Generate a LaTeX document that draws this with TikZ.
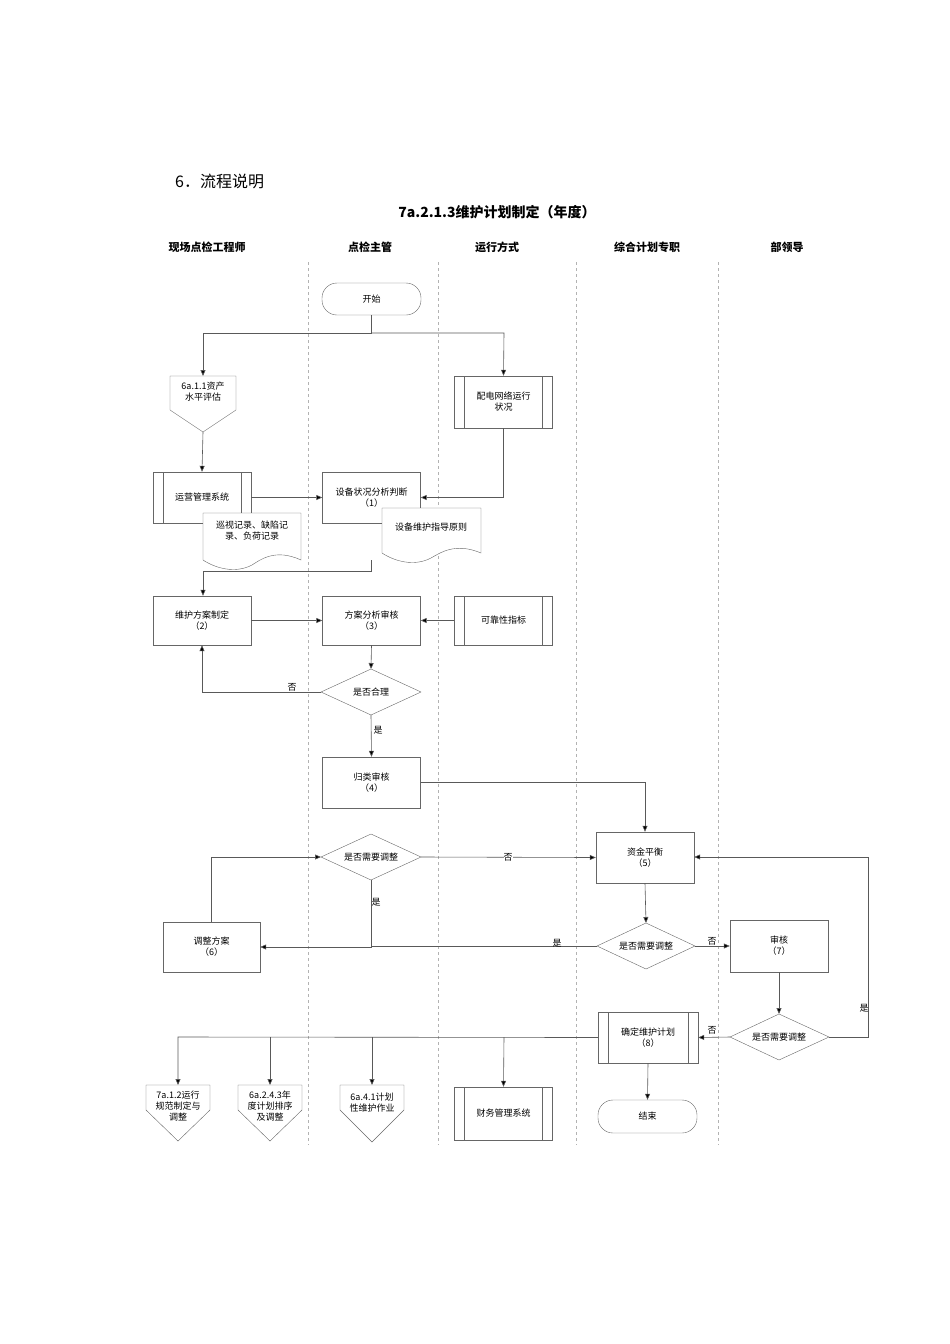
\documentclass[tikz,border=0pt]{standalone}
\usepackage{fontspec}
\setmainfont{Noto Sans CJK SC}
\usetikzlibrary{arrows.meta,calc}
\begin{document}
\begin{tikzpicture}[x=1pt,y=-1pt,
  every node/.style={font=\fontsize{9}{11}\selectfont, align=center, inner sep=0pt},
  box/.style={draw=gray!80!black, minimum width=98pt, minimum height=50pt},
  pre/.style={box, path picture={
    \draw[gray!80!black] ([xshift=10pt]path picture bounding box.north west) -- ([xshift=10pt]path picture bounding box.south west);
    \draw[gray!80!black] ([xshift=-10pt]path picture bounding box.north east) -- ([xshift=-10pt]path picture bounding box.south east);}},
  term/.style={draw=gray!80!black, rounded corners=15pt, minimum width=99pt, minimum height=32pt},
  dia/.style={draw=gray!80!black},
  ln/.style={draw=gray!70!black, line width=0.6pt},
  ar/.style={ln, -{Triangle[length=6pt,width=5pt,fill=black]}},
  lane/.style={draw=gray!60, dash pattern=on 3pt off 3pt, line width=0.4pt},
  hd/.style={font=\fontsize{11}{13}\selectfont\bfseries},
  lb/.style={font=\fontsize{9}{11}\selectfont}]
\useasboundingbox (0,0) rectangle (950,1344);
\node[anchor=west, font=\fontsize{16}{18}\selectfont] (sec) at (175,181) {6．流程说明};
\node[font=\fontsize{14}{16}\selectfont\bfseries] (title) at (497,212) {7a.2.1.3维护计划制定（年度）};
\node[hd] (h1) at (207,247) {现场点检工程师};
\node[hd] (h2) at (370,247) {点检主管};
\node[hd] (h3) at (497,247) {运行方式};
\node[hd] (h4) at (647,247) {综合计划专职};
\node[hd] (h5) at (787,247) {部领导};
\foreach \x in {308,438,576,718} \draw[lane] (\x,262) -- (\x,1145);

% start
\node[term] (start) at (371.5,299) {开始};
\coordinate (sp) at (371.5,333);
\coordinate (spL) at (203,333);
\coordinate (spR) at (504,333);
% offpage 6a.1.1
\node (o1) at (203,392) {6a.1.1资产\\水平评估};
\draw[dia] (170,376) -- (236,376) -- (236,410) -- (203,432) -- (170,410) -- cycle;
\coordinate (o1b) at (203,432);
\coordinate (o1t) at (203,376);
\node[pre, minimum height=52pt] (pd) at (503.5,402) {配电网络运行\\状况};
\node[pre, minimum height=51pt] (yy) at (202,497.5) {运营管理系统};
\node[box, minimum height=51pt] (n1) at (371.5,497.5) {设备状况分析判断\\（1）};
% documents
\draw[dia, fill=white] (203,513) -- (301,513) -- (301,560) .. controls (275,548) and (260,560) .. (252,565) .. controls (235,574) and (215,568) .. (203,560) -- cycle;
\node (d1) at (252,531) {巡视记录、缺陷记\\录、负荷记录};
\draw[dia, fill=white] (382,508) -- (481,508) -- (481,553) .. controls (455,542) and (440,553) .. (431,558) .. controls (414,567) and (394,561) .. (382,553) -- cycle;
\node (d2) at (431,527) {设备维护指导原则};
\node[box, minimum height=49pt] (n2) at (202,620.5) {维护方案制定\\（2）};
\node[box, minimum height=49pt] (n3) at (371.5,620.5) {方案分析审核\\（3）};
\node[pre, minimum height=49pt] (kk) at (503.5,620.5) {可靠性指标};
\draw[dia] (321,692) -- (371,669) -- (421,692) -- (371,715) -- cycle;
\node (q1) at (371,692) {是否合理};
\node[box, minimum height=51pt] (n4) at (371.5,782.5) {归类审核\\（4）};
\node[box, minimum height=51pt] (n5) at (645,857.5) {资金平衡\\（5）};
\draw[dia] (321,857) -- (371,834) -- (421,857) -- (371,880) -- cycle;
\node (q2) at (371,857) {是否需要调整};
\node[box, minimum height=50pt, minimum width=97pt] (n6) at (211.5,947) {调整方案\\（6）};
\draw[dia] (597,946) -- (646,923) -- (695,946) -- (646,969) -- cycle;
\node (q3) at (646,946) {是否需要调整};
\node[box, minimum height=52pt] (n7) at (779,946) {审核\\（7）};
\draw[dia] (730,1037) -- (779,1014) -- (829,1037) -- (779,1060) -- cycle;
\node (q4) at (779,1037) {是否需要调整};
\node[pre, minimum width=100pt, minimum height=51pt] (n8) at (648,1037.5) {确定维护计划\\（8）};
\node[term, minimum height=33pt] (end) at (647.5,1116.5) {结束};
% bottom offpages
\draw[dia] (146,1085) -- (210,1085) -- (210,1110) -- (178,1141) -- (146,1110) -- cycle;
\node (b1) at (178,1106) {7a.1.2运行\\规范制定与\\调整};
\draw[dia] (238,1085) -- (302,1085) -- (302,1110) -- (270,1141) -- (238,1110) -- cycle;
\node (b2) at (270,1106) {6a.2.4.3年\\度计划排序\\及调整};
\draw[dia] (340,1085) -- (404,1085) -- (404,1110) -- (372,1142) -- (340,1110) -- cycle;
\node (b3) at (372,1103) {6a.4.1计划\\性维护作业};
\node[pre, minimum height=53pt] (cw) at (503.5,1113.5) {财务管理系统};

% connectors
\draw[ln] (start.south) -- (sp);
\draw[ar] (sp) -- (spL) -- (o1t);
\draw[ar] (sp) -- (spR) -- (pd.north);
\draw[ar] (o1b) -- (yy.north);
\draw[ar] (yy.east) -- (n1.west);
\draw[ar] (pd.south) |- (n1.east);
\coordinate (c1) at (371.5,571);
\coordinate (c2) at (203,571);
\draw[ar] (371.5,560) -- (c1) -- (c2) -- (n2.north -| c2);
\draw[ar] (n2.east) -- (n3.west);
\draw[ar] (kk.west) -- (n3.east);
\draw[ar] (n3.south) -- (371,669);
\draw[ar] (321,692) -| (n2.south);
\node[lb] (l1) at (292,687) {否};
\draw[ar] (371,715) -- (n4.north);
\node[lb] (l2) at (378,730) {是};
\draw[ar] (n4.east) -| (n5.north);
\draw[ar] (421,857) -- (n5.west);
\node[lb, fill=white] (l3) at (508,857) {否};
\draw[ar] (371,880) |- (n6.east);
\node[lb] (l4) at (376,902) {是};
\draw[ar] (n6.north) |- (321,857);
\draw[ar] (n5.south) -- (646,923);
\draw[ln] (597,946) -- (371,946);
\node[lb] (l5) at (557,943) {是};
\draw[ar] (695,946) -- (n7.west);
\node[lb, fill=white] (l6) at (712,941) {否};
\draw[ar] (n7.south) -- (779,1014);
\coordinate (r1) at (868,1037);
\coordinate (r2) at (868,857);
\draw[ar] (829,1037) -- (r1) -- (r2) -- (n5.east |- r2);
\node[lb] (l7) at (864,1008) {是};
\draw[ar] (730,1037) -- (n8.east);
\node[lb, fill=white] (l8) at (712,1030) {否};
\draw[ar] (n8.south) -- (end.north);
\coordinate (m1) at (178,1037);
\draw[ar] (n8.west) -- (m1) -- (178,1085);
\draw[ar] (270,1037) -- (270,1085);
\draw[ar] (372,1037) -- (372,1085);
\draw[ar] (504,1037) -- (cw.north);
\end{tikzpicture}
\end{document}
